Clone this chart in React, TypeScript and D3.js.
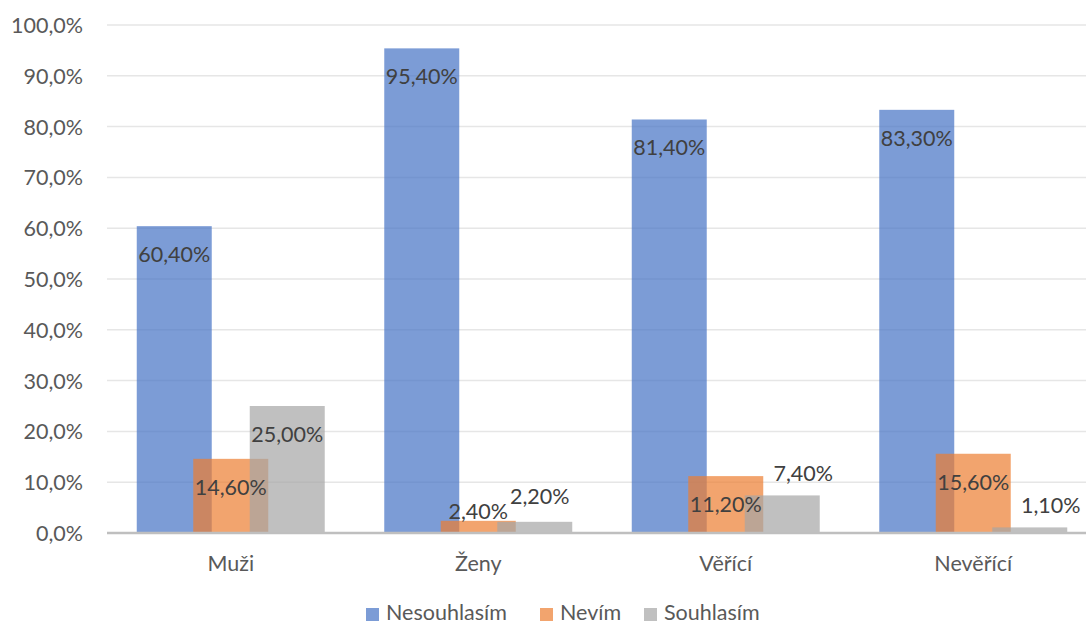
import { useMemo } from "react";
import { scaleLinear, scaleBand } from "d3";

const categories = ["Muži", "Ženy", "Věřící", "Nevěřící"];
const seriesNames = ["Nesouhlasím", "Nevím", "Souhlasím"];
const nesouhlasim = [60.4, 95.4, 81.4, 83.3];
const nevim = [14.6, 2.4, 11.2, 15.6];
const souhlasim = [25.0, 2.2, 7.4, 1.1];
const yTicks = [0, 10, 20, 30, 40, 50, 60, 70, 80, 90, 100];
const colors = ["#4472C4", "#ED7D31", "#A5A5A5"];

const W = 1086;
const H = 625;
const FONT = "Lato, 'Noto Sans', sans-serif";
const FS = 21.5;

const fmtTick = (v: number) => `${v.toFixed(1).replace(".", ",")}%`;
const fmtLabel = (v: number) => `${v.toFixed(2).replace(".", ",")}%`;

export default function App() {
  const series = [nesouhlasim, nevim, souhlasim];

  const x = scaleBand<string>().domain(categories).range([107, 1097]);
  const y = scaleLinear().domain([0, 100]).range([533, 25]);

  // bars overlap like the Excel original: width 75, step 56.5
  const barW = 75;
  const barStep = 56.5;
  const offset = (si: number) => (si - 1) * barStep - barW / 2;

  const labels = useMemo(() => {
    const out: { x: number; y: number; text: string }[] = [];
    categories.forEach((c, ci) => {
      const group: { x: number; y: number; text: string; w: number; outside: boolean }[] = [];
      series.forEach((s, si) => {
        const v = s[ci];
        const top = y(v);
        const cx = (x(c) ?? 0) + x.bandwidth() / 2 + offset(si) + barW / 2;
        const fits = y(0) - top > 40;
        group.push({
          x: cx + (!fits && si === 2 ? 21 : 0),
          y: fits ? top + 28 : top - 22,
          text: fmtLabel(v),
          w: 68,
          outside: !fits,
        });
      });
      // simple collision pass for neighbouring outside labels
      for (let i = 0; i < group.length - 1; i++) {
        const a = group[i];
        const b = group[i + 1];
        if (a.outside && b.outside && Math.abs(a.x - b.x) < a.w + 10 && Math.abs(a.y - b.y) < 20) {
          a.y += 12;
          b.y -= 4;
          b.x -= 16;
        }
      }
      group.forEach((g) => out.push({ x: g.x, y: g.y, text: g.text }));
    });
    return out;
  }, []);

  const legendX = [366, 540, 644];

  return (
    <svg
      width={W}
      height={H}
      style={{ position: "absolute", left: 0, top: 0, background: "#fff" }}
      fontFamily={FONT}
    >
      {/* gridlines */}
      {yTicks.slice(1).map((t) => (
        <line key={t} x1={107} x2={W} y1={y(t)} y2={y(t)} stroke="#e6e6e6" strokeWidth={1.5} />
      ))}
      {/* y tick labels */}
      {yTicks.map((t) => (
        <text
          key={t}
          x={83}
          y={y(t) + 8}
          textAnchor="end"
          fontSize={FS}
          fill="#595959"
        >
          {fmtTick(t)}
        </text>
      ))}
      {/* bars */}
      {series.map((s, si) => (
        <g key={si}>
          {categories.map((c, ci) => (
            <rect
              key={c}
              x={(x(c) ?? 0) + x.bandwidth() / 2 + offset(si)}
              y={y(s[ci])}
              width={barW}
              height={y(0) - y(s[ci])}
              fill={colors[si]}
              fillOpacity={0.7}
            />
          ))}
        </g>
      ))}
      {/* baseline */}
      <line x1={107} x2={W} y1={y(0)} y2={y(0)} stroke="#bfbfbf" strokeWidth={2.5} />
      {/* data labels */}
      {labels.map((l, i) => (
        <text
          key={i}
          x={l.x}
          y={l.y}
          textAnchor="middle"
          dominantBaseline="central"
          fontSize={FS}
          fill="#404040"
        >
          {l.text}
        </text>
      ))}
      {/* category labels */}
      {categories.map((c) => (
        <text
          key={c}
          x={(x(c) ?? 0) + x.bandwidth() / 2}
          y={571}
          textAnchor="middle"
          fontSize={FS}
          fill="#595959"
        >
          {c}
        </text>
      ))}
      {/* legend */}
      {seriesNames.map((n, i) => (
        <g key={n}>
          <rect x={legendX[i]} y={608} width={13} height={13} fill={colors[i]} fillOpacity={0.7} />
          <text x={legendX[i] + 20} y={620} fontSize={FS} fill="#595959">
            {n}
          </text>
        </g>
      ))}
    </svg>
  );
}
